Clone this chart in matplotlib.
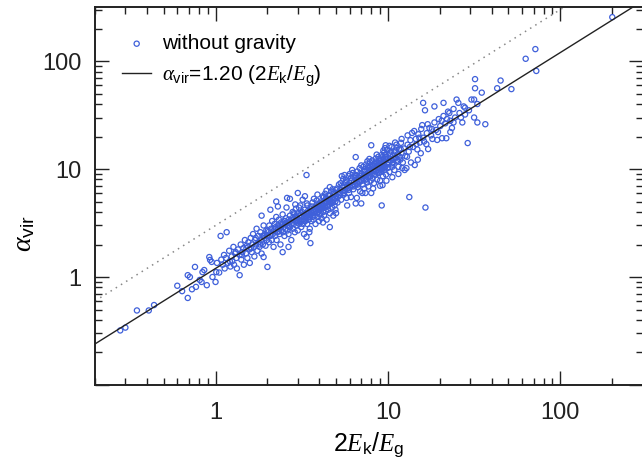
import matplotlib
matplotlib.use('Agg')
import matplotlib.pyplot as plt
from matplotlib.ticker import NullFormatter, LogLocator
import numpy as np

plt.rcParams['font.family'] = ['Liberation Sans', 'DejaVu Sans']
plt.rcParams['mathtext.fontset'] = 'custom'
plt.rcParams['mathtext.rm'] = 'Liberation Sans'
plt.rcParams['mathtext.it'] = 'Liberation Serif:italic'
plt.rcParams['mathtext.bf'] = 'Liberation Sans:bold'

# (2Ek/Eg, alpha_vir) for the "without gravity" runs
low_end = [(0.28, 0.32), (0.30, 0.34), (0.35, 0.49), (0.41, 0.49), (0.44, 0.55),
           (0.60, 0.83), (0.64, 0.74), (0.69, 0.64), (0.69, 1.04), (0.71, 1.0),
           (0.73, 0.77), (0.76, 1.24), (0.77, 0.81), (0.81, 0.94), (0.83, 0.90),
           (0.84, 1.11), (0.86, 1.16), (0.89, 0.84), (0.92, 1.53), (0.93, 1.44),
           (0.95, 1.38), (0.96, 1.0), (1.0, 0.90), (1.01, 1.11)]

one_to_two = [(1.02, 1.35), (1.05, 1.10), (1.07, 2.4), (1.08, 1.45), (1.10, 1.30),
              (1.12, 1.60), (1.13, 1.20), (1.15, 1.50), (1.16, 2.6), (1.18, 1.35),
              (1.20, 1.75), (1.22, 1.25), (1.24, 1.55), (1.25, 1.40), (1.27, 1.90),
              (1.28, 1.30), (1.30, 1.65), (1.32, 1.50), (1.33, 1.20), (1.35, 1.80),
              (1.38, 1.04), (1.38, 1.60), (1.40, 2.0), (1.41, 1.45), (1.43, 1.70),
              (1.45, 1.85), (1.46, 1.30), (1.48, 2.2), (1.50, 1.65), (1.52, 1.95),
              (1.53, 1.50), (1.55, 2.1), (1.57, 1.80), (1.58, 1.35), (1.60, 2.3),
              (1.62, 1.70), (1.63, 2.0), (1.65, 2.5), (1.67, 1.90), (1.68, 1.55),
              (1.70, 2.2), (1.72, 2.0), (1.73, 2.8), (1.75, 1.75), (1.77, 2.4),
              (1.78, 2.1), (1.80, 1.90), (1.82, 2.6), (1.84, 2.2), (1.85, 3.7),
              (1.85, 1.65), (1.87, 2.4), (1.88, 2.0), (1.90, 1.53), (1.90, 3.0),
              (1.92, 2.3), (1.94, 2.5), (1.95, 1.95), (1.97, 2.7), (1.98, 2.2),
              (2.0, 1.24), (2.0, 2.4), (1.21, 1.40), (1.31, 1.70), (1.42, 1.60),
              (1.51, 1.85), (1.61, 1.85), (1.71, 2.3), (1.81, 2.0), (1.91, 2.4)]

two_to_five = [(2.02, 2.6), (2.04, 2.1), (2.05, 3.0), (2.08, 4.2), (2.08, 2.4),
               (2.10, 2.8), (2.12, 2.2), (2.13, 3.3), (2.15, 2.5), (2.17, 1.9),
               (2.18, 2.7), (2.20, 3.1), (2.21, 2.4), (2.23, 2.9), (2.25, 3.6),
               (2.25, 5.0), (2.26, 2.2), (2.28, 2.6), (2.30, 3.0), (2.30, 4.5),
               (2.31, 2.8), (2.33, 3.4), (2.35, 2.5), (2.36, 2.9), (2.38, 2.0),
               (2.40, 3.2), (2.41, 2.7), (2.43, 3.0), (2.45, 3.8), (2.45, 1.7),
               (2.46, 2.6), (2.48, 2.9), (2.50, 3.3), (2.51, 2.4), (2.53, 3.1),
               (2.55, 2.8), (2.56, 3.5), (2.58, 4.4), (2.60, 3.0), (2.60, 5.4),
               (2.61, 2.7), (2.63, 3.2), (2.65, 2.5), (2.65, 1.9), (2.66, 3.4),
               (2.68, 3.0), (2.70, 3.7), (2.70, 5.3), (2.71, 2.9), (2.73, 3.3),
               (2.75, 2.2), (2.76, 3.1), (2.78, 3.5), (2.80, 4.0), (2.81, 2.8),
               (2.83, 3.4), (2.85, 3.1), (2.86, 3.8), (2.88, 2.6), (2.90, 3.3),
               (2.91, 3.6), (2.93, 4.3), (2.95, 3.0), (2.96, 3.5), (2.98, 3.2),
               (3.00, 2.7), (3.00, 6.0), (3.02, 3.9), (3.04, 3.4), (3.06, 3.1),
               (3.08, 3.7), (3.10, 4.6), (3.12, 3.3), (3.14, 2.9), (3.16, 3.6),
               (3.18, 4.0), (3.20, 3.4), (3.22, 3.1), (3.24, 3.8), (3.26, 2.5),
               (3.28, 3.6), (3.30, 4.2), (3.32, 3.3), (3.34, 3.9), (3.36, 3.5),
               (3.37, 8.8), (3.37, 2.35), (3.38, 4.8), (3.40, 3.1), (3.42, 3.7),
               (3.44, 4.1), (3.46, 3.4), (3.48, 3.9), (3.50, 3.6), (3.52, 2.8),
               (3.54, 4.3), (3.55, 2.06), (3.56, 3.8), (3.58, 4.0), (3.60, 3.3),
               (3.62, 4.5), (3.64, 3.9), (3.66, 3.6), (3.68, 4.2), (3.70, 3.4),
               (3.72, 5.3), (3.74, 4.0), (3.76, 3.7), (3.78, 4.4), (3.80, 3.1),
               (3.82, 4.1), (3.85, 4.7), (3.87, 3.9), (3.89, 4.3), (3.91, 3.6),
               (3.94, 4.6), (3.96, 4.0), (3.98, 3.3), (4.00, 4.8), (4.02, 4.2),
               (4.05, 3.8), (4.07, 5.0), (4.09, 4.4), (4.12, 3.5), (4.14, 4.9),
               (4.16, 4.3), (4.19, 5.6), (4.21, 4.0), (4.23, 4.6), (4.26, 3.7),
               (4.28, 5.1), (4.31, 4.4), (4.33, 4.8), (4.36, 4.1), (4.38, 5.4),
               (4.41, 3.4), (4.43, 4.9), (4.46, 4.5), (4.48, 5.2), (4.51, 4.2),
               (4.53, 5.7), (4.56, 4.7), (4.58, 5.0), (4.60, 2.9), (4.61, 3.9),
               (4.63, 5.3), (4.66, 4.8), (4.68, 6.2), (4.71, 5.0), (4.74, 4.4),
               (4.76, 5.5), (4.79, 4.9), (4.82, 3.7), (4.84, 5.2), (4.87, 5.9),
               (4.90, 4.6), (4.92, 5.4), (4.95, 5.0), (4.96, 4.2), (4.98, 6.4),
               (2.01, 2.7), (2.11, 2.45), (2.22, 2.8), (2.34, 2.65), (2.44, 3.1),
               (2.52, 3.3), (2.67, 2.9), (2.84, 3.9), (2.97, 3.3), (3.11, 3.9),
               (3.27, 3.3), (3.41, 4.6), (3.57, 4.1), (3.71, 4.0), (3.86, 5.1),
               (4.01, 4.4), (4.17, 4.6), (4.32, 5.9), (4.47, 4.6), (4.62, 5.7),
               (4.77, 6.5), (4.93, 5.3), (3.05, 4.4), (3.35, 3.7), (3.65, 4.9),
               (3.95, 4.2), (4.25, 5.5), (4.55, 5.1), (4.85, 6.1),
               (3.2, 5.2), (3.5, 2.6), (3.9, 5.8), (4.2, 3.2), (4.6, 6.8),
               (4.4, 6.3), (3.3, 5.6), (2.9, 4.7)]

five_to_twelve = [(5.0, 5.6), (5.05, 6.6), (5.1, 4.9), (5.15, 6.1), (5.2, 7.2),
                  (5.25, 5.7), (5.3, 6.4), (5.35, 5.2), (5.4, 7.0), (5.45, 6.2),
                  (5.5, 8.1), (5.55, 5.8), (5.6, 6.8), (5.65, 6.3), (5.7, 7.6),
                  (5.75, 5.4), (5.8, 7.0), (5.85, 6.6), (5.9, 8.6), (5.95, 6.0),
                  (6.0, 7.4), (6.05, 6.9), (6.1, 5.5), (6.15, 7.8), (6.2, 7.1),
                  (6.25, 9.2), (6.3, 6.5), (6.35, 7.6), (6.4, 8.3), (6.45, 7.0),
                  (6.5, 4.8), (6.5, 12.9), (6.55, 8.0), (6.6, 7.3), (6.65, 9.5),
                  (6.7, 6.8), (6.75, 8.4), (6.8, 7.7), (6.85, 10.2), (6.9, 6.2),
                  (6.95, 8.6), (7.0, 4.8), (7.0, 7.9), (7.05, 9.0), (7.1, 8.3),
                  (7.1, 6.0), (7.15, 7.2), (7.2, 10.5), (7.25, 8.8), (7.3, 6.6),
                  (7.35, 9.4), (7.4, 8.0), (7.45, 11.0), (7.5, 8.7), (7.55, 7.5),
                  (7.6, 9.8), (7.65, 9.1), (7.7, 6.9), (7.75, 10.3), (7.8, 8.4),
                  (7.85, 11.6), (7.9, 9.5), (7.95, 7.8), (8.0, 6.0), (8.0, 10.0),
                  (8.0, 16.6), (8.05, 9.0), (8.1, 12.0), (8.15, 8.2), (8.2, 10.6),
                  (8.25, 9.6), (8.3, 7.4), (8.35, 11.2), (8.4, 10.1), (8.45, 8.8),
                  (8.5, 12.5), (8.55, 9.5), (8.6, 10.8), (8.65, 8.0), (8.7, 11.5),
                  (8.75, 10.2), (8.8, 13.0), (8.85, 9.2), (8.9, 11.0), (8.95, 10.4),
                  (9.0, 7.8), (9.05, 12.0), (9.1, 10.6), (9.15, 9.4), (9.2, 4.6),
                  (9.2, 13.5), (9.25, 11.3), (9.3, 10.0), (9.3, 7.1), (9.35, 8.6),
                  (9.4, 12.4), (9.45, 11.0), (9.5, 14.2), (9.55, 9.8), (9.6, 11.8),
                  (9.65, 10.5), (9.7, 13.0), (9.7, 16.6), (9.75, 8.9), (9.8, 12.2),
                  (9.85, 11.2), (9.9, 15.0), (9.95, 10.2), (10.0, 12.6), (10.1, 11.5),
                  (10.2, 9.4), (10.3, 13.6), (10.4, 12.0), (10.5, 16.0), (10.6, 10.5),
                  (10.6, 11.0), (10.7, 13.2), (10.8, 12.4), (10.9, 9.8), (11.0, 14.5),
                  (11.1, 12.8), (11.2, 16.8), (11.3, 11.8), (11.4, 13.8), (11.5, 10.5),
                  (11.6, 15.2), (11.7, 13.0), (11.8, 12.2), (11.9, 17.5), (12.0, 14.0),
                  (5.12, 5.5), (5.32, 7.4), (5.52, 6.0), (5.72, 7.9), (5.92, 6.4),
                  (6.12, 8.3), (6.32, 6.9), (6.52, 8.8), (6.72, 7.2), (6.92, 9.1),
                  (7.12, 7.8), (7.32, 9.9), (7.52, 8.0), (7.72, 10.6), (7.92, 8.6),
                  (8.12, 10.9), (8.32, 9.0), (8.52, 11.7), (8.72, 9.3), (8.92, 12.0),
                  (9.12, 9.8), (9.32, 12.9), (9.52, 10.3), (9.72, 12.5), (9.92, 11.0),
                  (10.25, 14.2), (10.65, 11.4), (11.05, 14.8), (11.45, 12.0), (11.85, 15.3),
                  (5.25, 6.0), (5.65, 7.4), (6.05, 6.8), (6.45, 8.6), (6.85, 7.6),
                  (7.25, 9.6), (7.65, 8.4), (8.05, 10.5), (8.45, 9.6), (8.85, 11.4),
                  (9.25, 10.2), (9.65, 13.6), (10.05, 11.6), (10.45, 14.6), (10.85, 12.6),
                  (11.25, 15.7),
                  (5.0, 3.9), (5.4, 8.6), (5.8, 4.6), (6.2, 9.8), (6.6, 5.4),
                  (7.0, 10.8), (7.4, 6.0), (7.8, 12.4), (8.2, 6.6), (8.6, 13.6),
                  (9.0, 7.0), (9.4, 14.8), (9.8, 7.8), (10.2, 16.4), (10.6, 8.4),
                  (11.0, 17.6), (11.5, 9.0), (12.0, 19.0), (6.0, 9.0), (7.6, 11.8),
                  (9.6, 15.6), (5.6, 8.8)]

twelve_up = [(12.1, 10.2), (12.2, 11.5), (12.4, 15.5), (12.6, 13.2), (12.8, 10.2),
             (13.0, 16.8), (13.2, 14.5), (13.3, 5.5), (13.5, 18.5), (13.8, 21.6),
             (14.0, 16.0), (14.3, 10.9), (14.5, 19.0), (14.8, 15.2), (15.0, 21.0),
             (15.3, 17.6), (15.6, 23.5), (15.8, 25.5), (16.0, 41.0), (16.0, 19.5),
             (16.4, 35.0), (16.5, 4.4), (16.8, 21.5), (17.1, 15.3), (17.4, 24.0),
             (17.8, 20.5), (18.1, 19.0), (18.6, 38.0), (18.6, 27.0), (19.0, 23.0),
             (19.3, 18.6), (19.7, 29.0), (20.1, 25.0), (20.6, 19.3), (21.0, 41.0),
             (21.0, 31.0), (21.5, 26.5), (21.8, 19.3), (22.3, 34.0), (22.7, 33.0),
             (23.0, 28.0), (23.5, 24.0), (24.0, 36.0), (24.5, 30.0), (25.0, 44.0),
             (25.6, 41.0), (26.0, 33.0), (27.0, 27.0), (27.5, 38.0), (28.0, 37.0),
             (28.0, 32.0), (29.0, 17.4), (29.5, 35.0), (30.5, 44.0), (31.6, 44.0),
             (31.6, 30.0), (32.0, 68.0), (32.0, 56.0), (33.0, 40.0), (33.0, 27.0),
             (35.0, 51.0), (36.7, 26.0), (43.0, 56.0), (45.0, 66.0), (52.0, 55.0),
             (62.9, 105.0), (71.6, 129.0), (72.5, 81.0), (200.0, 255.0),
             (12.5, 9.8), (13.0, 20.5), (13.6, 11.5), (14.2, 22.5), (14.9, 12.2),
             (15.5, 14.0), (16.2, 18.0), (17.0, 26.0), (12.9, 13.0), (14.6, 17.0),
             (13.4, 16.0), (15.2, 19.5), (16.7, 17.0), (18.0, 23.5), (19.5, 22.0),
             (20.5, 28.0), (22.0, 29.0), (24.0, 27.0), (26.5, 30.0), (23.0, 22.0)]

points = low_end + one_to_two + two_to_five + five_to_twelve + twelve_up
ek_eg = np.array([p[0] for p in points])
alpha_vir = np.array([p[1] for p in points])

fit_coef = 1.20
upper_coef = 3.0
xlim = (0.2, 300)
ylim = (0.1, 10 ** 2.5)

fig = plt.figure(figsize=(6.42, 4.62), dpi=100)
ax = fig.add_axes([0.148, 0.1667, 0.853, 0.818])

sc = ax.scatter(ek_eg, alpha_vir, s=14, facecolors='none', edgecolors='#3f60da',
                linewidths=0.9, zorder=3)
xl = np.array(xlim)
ax.plot(xl, upper_coef * xl, ls=(0, (1, 3)), color='#888888', lw=1.1, zorder=2)
fit, = ax.plot(xl, fit_coef * xl, color='#222222', lw=1.0, zorder=4)

ax.set_xscale('log')
ax.set_yscale('log')
ax.set_xlim(xlim)
ax.set_ylim(ylim)

ax.set_xticks([1, 10, 100], ['1', '10', '100'])
ax.set_yticks([0.1, 1, 10, 100], ['', '1', '10', '100'])
ax.xaxis.set_minor_locator(LogLocator(subs=np.arange(2, 10)))
ax.yaxis.set_minor_locator(LogLocator(subs=np.arange(2, 10)))
ax.xaxis.set_minor_formatter(NullFormatter())
ax.yaxis.set_minor_formatter(NullFormatter())
ax.tick_params(which='both', direction='in', top=True, right=True,
               labelsize=17, colors='#222222', width=1.0)
ax.tick_params(which='major', length=10)
ax.tick_params(which='minor', length=5)
ax.tick_params(axis='x', pad=12)
ax.tick_params(axis='y', pad=10)
for sp in ax.spines.values():
    sp.set_linewidth(1.4)
    sp.set_color('#222222')

ax.set_xlabel(r'$2E_{\rm k}/E_{\rm g}$', fontsize=18, labelpad=5)
ax.set_ylabel(r'$\alpha_{\rm vir}$', fontsize=20)
ax.yaxis.set_label_coords(-0.105, 0.40)

ax.legend([sc, fit], ['without gravity', r'$\alpha_{\rm vir}$=1.20 $(2E_{\rm k}/E_{\rm g})$'],
          loc='upper left', fontsize=15, frameon=False, scatterpoints=1,
          handlelength=1.4, handletextpad=0.5, borderaxespad=0.4, borderpad=0.9,
          labelspacing=0.5)

fig.savefig('out.png', dpi=100)
